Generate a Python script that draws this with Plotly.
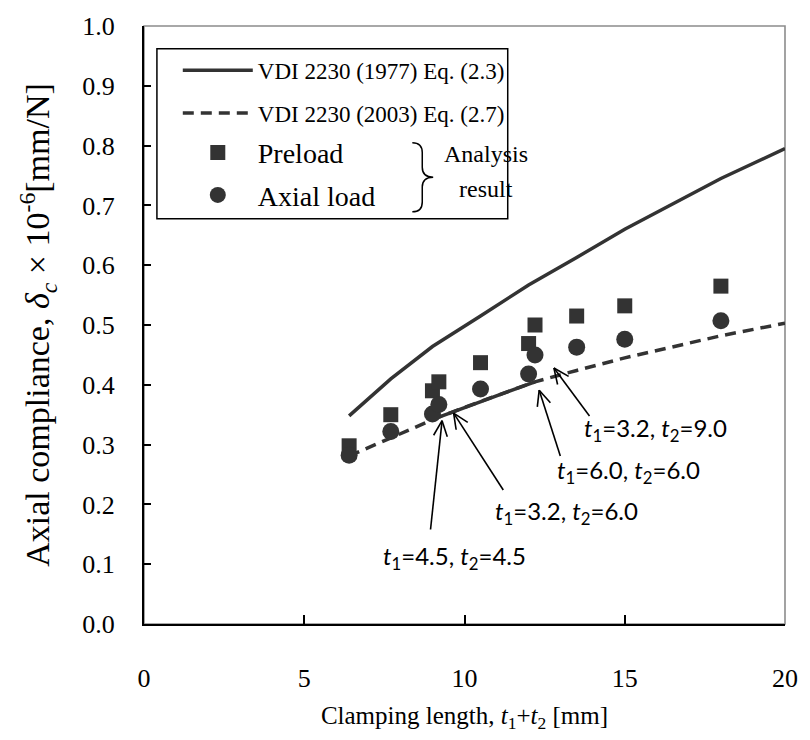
import math
import plotly.graph_objects as go

# ---------------- data ----------------
clamp_len = [6.4, 7.7, 9.0, 9.2, 10.5, 12.0, 12.2, 13.5, 15.0, 18.0]
preload = [0.298, 0.350, 0.390, 0.405, 0.437, 0.469, 0.500, 0.515, 0.532, 0.565]
axial_load = [0.282, 0.322, 0.351, 0.367, 0.393, 0.418, 0.450, 0.463, 0.476, 0.507]

curve_len = [6.4, 7.7, 9.0, 9.2, 10.5, 12.0, 12.2, 13.5, 15.0, 18.0, 20.0]
vdi_1977 = [0.348, 0.410, 0.464, 0.471, 0.515, 0.567, 0.573, 0.613, 0.660, 0.745, 0.795]
vdi_2003 = [0.281, 0.311, 0.341, 0.346, 0.372, 0.401, 0.405, 0.424, 0.445, 0.482, 0.503]

# annotated cases: label, text position (x, y), arrow tail (x, y), arrow tip (x, y)
case_labels = ["<i>t</i><sub>1</sub>=4.5, <i>t</i><sub>2</sub>=4.5",
               "<i>t</i><sub>1</sub>=3.2, <i>t</i><sub>2</sub>=6.0",
               "<i>t</i><sub>1</sub>=6.0, <i>t</i><sub>2</sub>=6.0",
               "<i>t</i><sub>1</sub>=3.2, <i>t</i><sub>2</sub>=9.0"]
case_text_pos = [(9.69, 0.111), (13.19, 0.186), (15.11, 0.2545), (15.96, 0.326)]
case_tail = [(8.94, 0.158), (11.21, 0.224), (12.99, 0.281), (13.90, 0.348)]
case_tip = [(9.30, 0.340), (9.66, 0.3526), (12.33, 0.391), (12.79, 0.428)]

x_ticks = [0, 5, 10, 15, 20]
y_ticks = [round(0.1 * i, 1) for i in range(11)]

# ---------------- layout constants ----------------
W, H = 810, 740
ML, MR, MT, MB = 144, 21, 19, 116
PW, PH = W - ML - MR, H - MT - MB
XR, YR = (0, 20), (0, 1.0)
ppx = PW / (XR[1] - XR[0])
ppy = PH / (YR[1] - YR[0])

DARK = "#333333"
SERIF = "Liberation Serif"
SANS = "Lato"

fig = go.Figure()

fig.add_trace(go.Scatter(
    x=curve_len, y=vdi_1977, mode="lines", name="VDI 2230 (1977) Eq. (2.3)",
    line=dict(color=DARK, width=3.5), legendgroup="a"))
fig.add_trace(go.Scatter(
    x=curve_len, y=vdi_2003, mode="lines", name="VDI 2230 (2003) Eq. (2.7)",
    line=dict(color=DARK, width=3.5, dash="11px,7px"), legendgroup="b"))
# emphasised (solid) part of the 2003 curve around the annotated cases
fig.add_trace(go.Scatter(
    x=curve_len[3:7], y=vdi_2003[3:7], mode="lines", showlegend=False,
    line=dict(color=DARK, width=3.5), hoverinfo="skip"))
fig.add_trace(go.Scatter(
    x=clamp_len, y=preload, mode="markers", name="Preload",
    marker=dict(symbol="square", size=15, color=DARK), legendgroup="c", legend="legend2"))
fig.add_trace(go.Scatter(
    x=clamp_len, y=axial_load, mode="markers", name="Axial load",
    marker=dict(symbol="circle", size=17, color=DARK), legendgroup="d", legend="legend2"))

annotations = []
shapes = [
    dict(type="rect", xref="paper", yref="paper", x0=0, y0=0, x1=1, y1=1,
         line=dict(color="#8c8c8c", width=1.6), layer="below"),
]

for lab, tp, tail, tip in zip(case_labels, case_text_pos, case_tail, case_tip):
    annotations.append(dict(x=tp[0], y=tp[1], xref="x", yref="y", text=lab,
                            showarrow=False, font=dict(family=SANS, size=24, color="black")))
    # shaft
    shapes.append(dict(type="line", xref="x", yref="y", x0=tail[0], y0=tail[1],
                       x1=tip[0], y1=tip[1], line=dict(color="black", width=1.6)))
    # open V head
    dx = (tail[0] - tip[0]) * ppx
    dy = (tail[1] - tip[1]) * ppy
    n = math.hypot(dx, dy)
    ux, uy = dx / n, dy / n
    for ang in (24, -24):
        a = math.radians(ang)
        vx = ux * math.cos(a) - uy * math.sin(a)
        vy = ux * math.sin(a) + uy * math.cos(a)
        shapes.append(dict(type="line", xref="x", yref="y", x0=tip[0], y0=tip[1],
                           x1=tip[0] + vx * 17 / ppx, y1=tip[1] + vy * 17 / ppy,
                           line=dict(color="black", width=1.6)))


def px2paper(px, py):
    return (px - ML) / PW, (H - MB - py) / PH


# legend frame
bx0, by0 = px2paper(157, 42)
bx1, by1 = px2paper(510, 214)
shapes.append(dict(type="rect", xref="paper", yref="paper", x0=bx0, y0=by1, x1=bx1, y1=by0,
                   line=dict(color="black", width=1.5), fillcolor="rgba(0,0,0,0)"))

# "Analysis result" note with brace
for txt, py in (("Analysis", 133), ("result", 169)):
    xx, yy = px2paper(488, py)
    annotations.append(dict(x=xx, y=yy, xref="paper", yref="paper", text=txt, showarrow=False,
                            font=dict(family=SERIF, size=24, color="black")))

brace_pts = [(414, 137), (424, 137), (424, 147), (424, 162), (424, 172), (435, 172),
             (424, 172), (424, 182), (424, 197), (424, 207), (414, 207)]
bp = [px2paper(*p) for p in brace_pts]
brace_path = ("M {0[0]},{0[1]} Q {1[0]},{1[1]} {2[0]},{2[1]} L {3[0]},{3[1]} "
              "Q {4[0]},{4[1]} {5[0]},{5[1]} Q {6[0]},{6[1]} {7[0]},{7[1]} "
              "L {8[0]},{8[1]} Q {9[0]},{9[1]} {10[0]},{10[1]}").format(*bp)
shapes.append(dict(type="path", xref="paper", yref="paper", path=brace_path,
                   line=dict(color="black", width=1.5)))

lx, ly = px2paper(178, 42)
lx2, ly2 = px2paper(178, 122)

y_title = "Axial compliance, <i>δ<sub>c</sub></i> × 10<sup>-6</sup>[mm/N]"

fig.update_layout(
    width=W, height=H,
    margin=dict(l=ML, r=MR, t=MT, b=MB),
    paper_bgcolor="white", plot_bgcolor="white",
    font=dict(family=SERIF, size=24, color="black"),
    showlegend=True,
    legend=dict(x=lx, y=ly, xanchor="left", yanchor="top",
                borderwidth=0, bgcolor="rgba(0,0,0,0)",
                font=dict(family=SERIF, size=23, color="black"),
                traceorder="grouped", tracegroupgap=10, itemwidth=70),
    legend2=dict(x=lx2, y=ly2, xanchor="left", yanchor="top",
                 borderwidth=0, bgcolor="rgba(0,0,0,0)",
                 font=dict(family=SERIF, size=28, color="black"),
                 traceorder="grouped", tracegroupgap=3, itemwidth=70),
    annotations=annotations,
    shapes=shapes,
    xaxis=dict(range=list(XR), tickvals=x_ticks, ticktext=[str(v) for v in x_ticks],
               ticks="inside", ticklen=9, tickwidth=1.5, tickcolor="black",
               showline=True, linecolor="black", linewidth=2, mirror=False,
               showgrid=False, zeroline=False, ticklabelstandoff=30,
               tickfont=dict(family=SERIF, size=26),
               title=dict(text="Clamping length, <i>t</i><sub>1</sub>+<i>t</i><sub>2</sub> [mm]",
                          font=dict(family=SERIF, size=25), standoff=14)),
    yaxis=dict(range=list(YR), tickvals=y_ticks, ticktext=[f"{v:.1f}" for v in y_ticks],
               ticks="inside", ticklen=7, tickwidth=1.5, tickcolor="black",
               showline=True, linecolor="black", linewidth=2, mirror=False,
               showgrid=False, zeroline=False, ticklabelstandoff=22,
               tickfont=dict(family=SERIF, size=26),
               title=dict(text=y_title, font=dict(family=SERIF, size=34), standoff=22)),
)

fig.write_html("out.html")
